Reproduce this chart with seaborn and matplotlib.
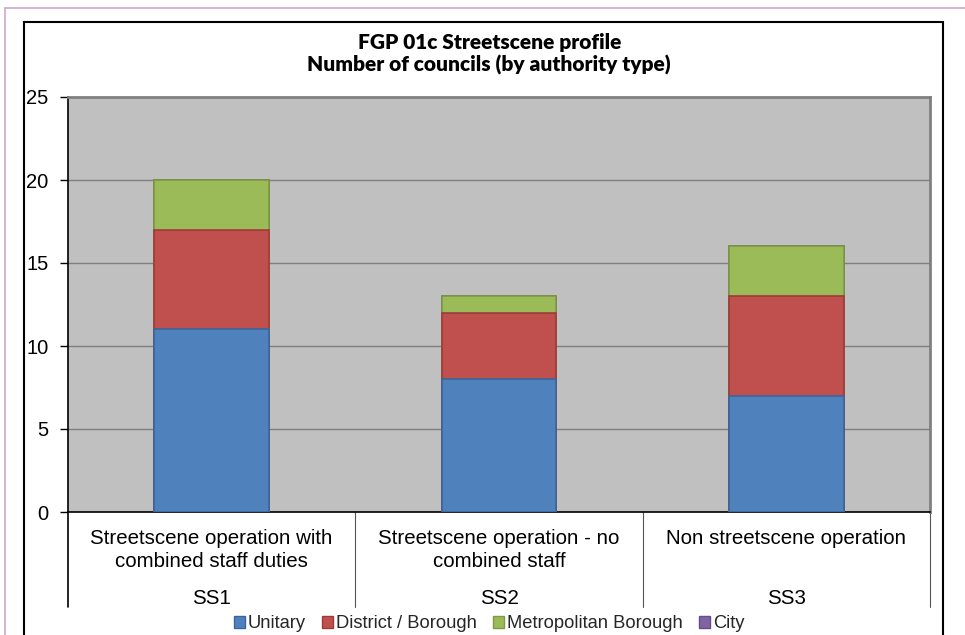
import matplotlib
matplotlib.use("Agg")
import matplotlib.pyplot as plt
import matplotlib.patches as mpatches
import seaborn as sns

# ---------------------------------------------------------------
# Data
# ---------------------------------------------------------------
codes = ["SS1", "SS2", "SS3"]
descriptions = [
    "Streetscene operation with\ncombined staff duties",
    "Streetscene operation - no\ncombined staff",
    "Non streetscene operation",
]
series_names = ["Unitary", "District / Borough", "Metropolitan Borough", "City"]
unitary = [11, 8, 7]
district = [6, 4, 6]
metropolitan = [3, 1, 3]
city = [0, 0, 0]

colors = ["#4F81BD", "#C0504D", "#9BBB59", "#8064A2"]
edges = ["#3A6699", "#9E3B38", "#7D9A44", "#654E84"]

sns.set_theme(style="white")
plt.rcParams["font.family"] = ["Liberation Sans", "DejaVu Sans"]
plt.rcParams["font.sans-serif"] = ["Liberation Sans", "DejaVu Sans"]

BODY = 14.8

fig = plt.figure(figsize=(9.65, 6.35), dpi=100)
ax = fig.add_axes([68 / 965, 1 - 512 / 635, (930 - 68) / 965, (512 - 97) / 635])
ax.set_facecolor("#C0C0C0")

# stacked bars: draw cumulative totals from the top down
stacks = [unitary, district, metropolitan, city]
cum = []
running = [0, 0, 0]
for s in stacks:
    running = [a + b for a, b in zip(running, s)]
    cum.append(list(running))

for i in [3, 2, 1, 0]:
    sns.barplot(x=codes, y=cum[i], color=colors[i], width=0.4,
                edgecolor=edges[i], linewidth=1.2, saturation=1, ax=ax, zorder=3)

ax.set_ylim(0, 25)
ax.set_xlim(-0.5, 2.5)
ax.set_yticks([0, 5, 10, 15, 20, 25])
ax.yaxis.grid(True, color="#7F7F7F", linewidth=1)
ax.set_axisbelow(True)
ax.tick_params(axis="y", left=True, length=6, width=1, color="black",
               pad=8, labelsize=14.5)
for lab in ax.get_yticklabels():
    lab.set_color("black")

ax.set_xticks([0, 1, 2])
ax.set_xticklabels(descriptions, fontsize=BODY, color="black", linespacing=1.3)
ax.tick_params(axis="x", bottom=False, length=0, pad=12)
ax.set_xlabel("")
ax.set_ylabel("")

for side in ["left", "bottom"]:
    ax.spines[side].set_color("black")
    ax.spines[side].set_linewidth(1.2)
for side in ["top", "right"]:
    ax.spines[side].set_color("#808080")
    ax.spines[side].set_linewidth(2)

# multi-level category axis: codes row and dividers
xt = ax.get_xaxis_transform()
for i, c in enumerate(codes):
    ax.text(i, -0.208, c, transform=xt, ha="center", va="center",
            fontsize=BODY, color="black")
for b in [-0.5, 0.5, 1.5, 2.5]:
    ax.plot([b, b], [0, -0.23], transform=xt, color="black" if b == -0.5 else "#555555",
            linewidth=1.2 if b == -0.5 else 0.8, clip_on=False)

# title
title_font = ["Lato", "DejaVu Sans"]
fig.text(0.507, 1 - 42 / 635, "FGP 01c Streetscene profile", ha="center", va="center",
         fontsize=15, fontweight="heavy", family=title_font, color="black")
fig.text(0.507, 1 - 65 / 635, "Number of councils (by authority type)", ha="center",
         va="center", fontsize=15, fontweight="heavy", family=title_font, color="black")

# legend
handles = [mpatches.Patch(facecolor=colors[i], edgecolor=edges[i], label=series_names[i])
           for i in range(4)]
fig.legend(handles=handles, loc="center", bbox_to_anchor=(0.507, 1 - 624 / 635),
           ncol=4, frameon=False, fontsize=13.2, handlelength=0.6, handleheight=0.6,
           handletextpad=0.15, columnspacing=0.9, borderaxespad=0)

# chart border and page frame
fig.patches.append(mpatches.Rectangle((24 / 965, -0.05), (943 - 24) / 965, 0.05 + 1 - 22 / 635,
                                      transform=fig.transFigure, fill=False,
                                      edgecolor="black", linewidth=1.5))
fig.lines.append(plt.Line2D([5 / 965, 1], [1 - 8 / 635, 1 - 8 / 635],
                            transform=fig.transFigure, color="#CDA8CD", linewidth=1.2))
fig.lines.append(plt.Line2D([5 / 965, 5 / 965], [0, 1 - 8 / 635],
                            transform=fig.transFigure, color="#CDA8CD", linewidth=1.2))

fig.savefig("out.png", dpi=100)
